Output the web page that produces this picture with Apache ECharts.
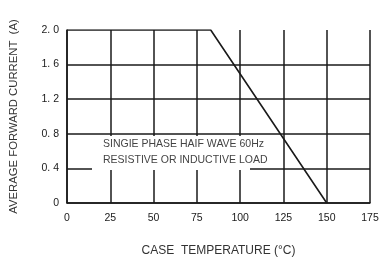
<!DOCTYPE html>
<html>
<head>
<meta charset="utf-8">
<script src="https://cdn.jsdelivr.net/npm/echarts@6/dist/echarts.min.js"></script>
<style>
  html, body { margin: 0; padding: 0; background: #fff; }
  #chart { width: 381px; height: 264px; }
</style>
</head>
<body>
<div id="chart"></div>
<script>
// derating curve: case temperature (°C) vs average forward current (A)
var caseTemp = [0, 83, 150];
var fwdCurrent = [2.0, 2.0, 0];
var yTickLabels = ['0', '0. 4', '0. 8', '1. 2', '1. 6', '2. 0'];
var noteLines = ['SINGIE PHASE HAIF WAVE 60Hz', 'RESISTIVE OR INDUCTIVE LOAD'];

var chart = echarts.init(document.getElementById('chart'));
var ink = '#1a1a1a';
var font = 'Liberation Sans';

var option = {
  animation: false,
  grid: { left: 67, right: 11, top: 30, bottom: 61, outerBoundsMode: 'none', containLabel: false },
  xAxis: {
    type: 'value',
    min: 0, max: 175, interval: 25,
    name: 'CASE  TEMPERATURE (°C)',
    nameLocation: 'middle',
    nameGap: 42,
    nameTextStyle: { color: '#333', fontSize: 12, fontFamily: font },
    axisLine: { show: true, lineStyle: { color: ink, width: 1.5 } },
    axisTick: { show: false },
    axisLabel: { color: ink, fontSize: 10.5, fontFamily: font, margin: 10 },
    splitLine: { show: true, lineStyle: { color: ink, width: 1.5 } }
  },
  yAxis: {
    type: 'value',
    min: 0, max: 2.0, interval: 0.4,
    name: 'AVERAGE FORWARD CURRENT  (A)',
    nameLocation: 'middle',
    nameGap: 48,
    nameTextStyle: { color: '#333', fontSize: 11.3, fontFamily: font },
    axisLine: { show: true, lineStyle: { color: ink, width: 1.5 } },
    axisTick: { show: false },
    axisLabel: {
      color: ink, fontSize: 10.5, fontFamily: font, margin: 8,
      formatter: function (v, i) { return yTickLabels[i]; }
    },
    splitLine: {
      show: true,
      showMaxLine: false,
      lineStyle: { color: [ink, ink, ink, ink, ink, 'rgba(0,0,0,0)'], width: 1.5 }
    }
  },
  graphic: [{
    type: 'group',
    left: 92, top: 136,
    z: 100,
    children: [{
      type: 'rect',
      z: 100,
      shape: { x: 0, y: 0, width: 158, height: 34 },
      style: { fill: '#fff' }
    }, {
      type: 'text',
      z: 101,
      x: 11, y: 8,
      style: {
        text: noteLines[0], fill: '#444', fontSize: 10.5, fontFamily: font,
        align: 'left', verticalAlign: 'middle'
      }
    }, {
      type: 'text',
      z: 101,
      x: 11, y: 24,
      style: {
        text: noteLines[1], fill: '#444', fontSize: 10.5, fontFamily: font,
        align: 'left', verticalAlign: 'middle'
      }
    }]
  }],
  series: [{
    type: 'line',
    data: caseTemp.map(function (t, i) { return [t, fwdCurrent[i]]; }),
    symbol: 'none',
    lineStyle: { color: ink, width: 1.6 },
    z: 5
  }]
};

chart.setOption(option);
</script>
</body>
</html>
